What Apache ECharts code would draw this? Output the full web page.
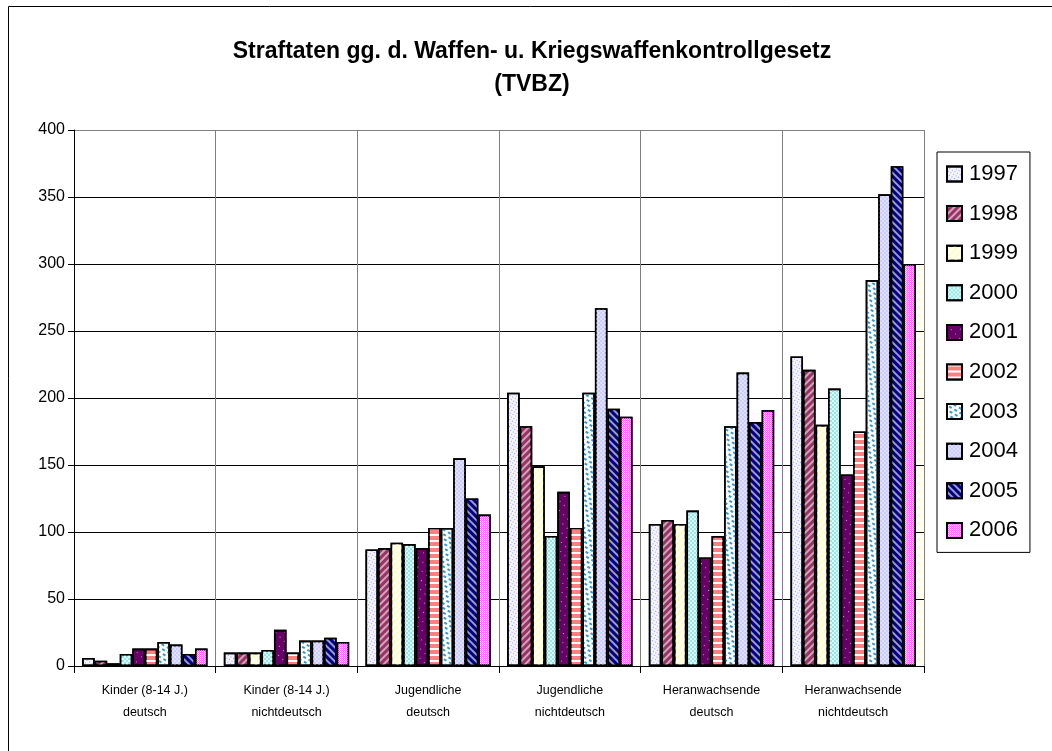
<!DOCTYPE html>
<html>
<head>
<meta charset="utf-8">
<script src="https://cdn.jsdelivr.net/npm/echarts@6/dist/echarts.min.js"></script>
<style>html,body{margin:0;padding:0;background:#fff}#c{width:1052px;height:751px}</style>
</head>
<body>
<div id="c"></div>
<script>
const categories = ['Kinder (8-14 J.)\ndeutsch', 'Kinder (8-14 J.)\nnichtdeutsch', 'Jugendliche\ndeutsch', 'Jugendliche\nnichtdeutsch', 'Heranwachsende\ndeutsch', 'Heranwachsende\nnichtdeutsch'];
const years = ['1997','1998','1999','2000','2001','2002','2003','2004','2005','2006'];
const v1997 = [6, 10, 87, 204, 106, 231];
const v1998 = [4, 10, 88, 179, 109, 221];
const v1999 = [2, 10, 92, 149, 106, 180];
const v2000 = [9, 12, 91, 97, 116, 207];
const v2001 = [13, 27, 88, 130, 81, 143];
const v2002 = [13, 10, 103, 103, 97, 175];
const v2003 = [18, 19, 103, 204, 179, 288];
const v2004 = [16, 19, 155, 267, 219, 352];
const v2005 = [9, 21, 125, 192, 182, 373];
const v2006 = [13, 18, 113, 186, 191, 300];
const yTicks = [0, 50, 100, 150, 200, 250, 300, 350, 400];

const values = [v1997, v1998, v1999, v2000, v2001, v2002, v2003, v2004, v2005, v2006];

const styles = [
  {color:'#f4f4ff', decal:{symbol:'rect', symbolSize:1, dashArrayX:[1,2], dashArrayY:[1,2], color:'#9999ff'}},
  {color:'#993366', decal:{symbol:'rect', symbolSize:1, dashArrayX:[1,0], dashArrayY:[2,3], rotation:-Math.PI/4, color:'rgba(255,255,255,0.55)'}},
  {color:'#ffffcc', decal:{symbol:'rect', symbolSize:1, dashArrayX:[1,0], dashArrayY:[2,3], color:'#ffffff'}},
  {color:'#ccffff', decal:{symbol:'rect', symbolSize:1, dashArrayX:[[2,2],[0,2,2,0]], dashArrayY:[2,0], color:'#a8e0e0'}},
  {color:'#660066', decal:{symbol:'rect', symbolSize:1, dashArrayX:[1,5], dashArrayY:[1,6], color:'#cc99cc'}},
  {color:'#ff8080', decal:{symbol:'rect', symbolSize:1, dashArrayX:[1,0], dashArrayY:[2,4], color:'#ffffff'}},
  {color:'#ffffff', decal:{symbol:'rect', symbolSize:1, dashArrayX:[[3,3],[0,3,3,0]], dashArrayY:[2,2], color:'#3399cc'}},
  {color:'#ccccff', decal:{symbol:'rect', symbolSize:1, dashArrayX:[[2,2],[0,2,2,0]], dashArrayY:[2,0], color:'#e0e0ff'}},
  {color:'#000080', decal:{symbol:'rect', symbolSize:1, dashArrayX:[1,0], dashArrayY:[2,3], rotation:Math.PI/4, color:'#9999cc'}},
  {color:'#ff66ff', decal:{symbol:'rect', symbolSize:1, dashArrayX:[[1,1],[0,1,1,0]], dashArrayY:[1,0], color:'#ffccff'}}
];

const series = years.map((y, i) => ({
  name: y,
  type: 'bar',
  data: values[i],
  barGap: '0%',
  barCategoryGap: '11.5%',
  itemStyle: {color: styles[i].color, borderColor:'#000', borderWidth:1.6, decal: styles[i].decal},
  emphasis: {disabled: true}
}));

const chart = echarts.init(document.getElementById('c'), null, {renderer:'canvas'});
chart.setOption({
  animation: false,
  backgroundColor: '#fff',
  aria: {enabled: true, decal: {show: true}},
  title: {
    text: 'Straftaten gg. d. Waffen- u. Kriegswaffenkontrollgesetz\n(TVBZ)',
    left: 527, top: 30, textAlign: 'center',
    textStyle: {fontFamily:'Arial, Liberation Sans', fontWeight:'bold', fontSize:23, lineHeight:33, color:'#000'}
  },
  legend: {
    orient: 'vertical',
    left: 937, top: 152,
    padding: [11, 12, 11, 9],
    borderColor: '#000', borderWidth: 1,
    itemWidth: 15, itemHeight: 15, itemGap: 17.6,
    icon: 'rect',
    textStyle: {fontFamily:'Arial, Liberation Sans', fontSize:22, lineHeight:22, color:'#000', padding:[0,0,0,2]},
    data: years
  },
  grid: {left: 74, right: 128, top: 130, bottom: 85, containLabel: false},
  xAxis: {
    type: 'category',
    data: categories,
    axisLine: {lineStyle: {color:'#000', width:1}},
    axisTick: {show: true, length: 7, interval: 0, lineStyle: {color:'#000'}},
    axisLabel: {interval: 0, margin: 14, fontFamily:'Arial, Liberation Sans', fontSize:12.5, lineHeight:22, color:'#000'},
    splitLine: {show: true, interval: 0, lineStyle: {color:'#808080', width:1}}
  },
  yAxis: {
    type: 'value',
    min: 0, max: 400, interval: 50,
    axisLine: {show: true, lineStyle: {color:'#000', width:1}},
    axisTick: {show: true, length: 6, lineStyle: {color:'#000'}},
    axisLabel: {margin: 9, fontFamily:'Arial, Liberation Sans', fontSize:16, color:'#000',
      formatter: v => yTicks.includes(v) ? String(v) : ''},
    splitLine: {show: true, lineStyle: {color:['#000','#000','#000','#000','#000','#000','#000','#000','#808080'], width:1}}
  },
  graphic: [
    {type:'line', shape:{x1:8.5, y1:6.5, x2:1052, y2:6.5}, style:{stroke:'#000', lineWidth:1}, silent:true},
    {type:'line', shape:{x1:8.5, y1:6.5, x2:8.5, y2:751}, style:{stroke:'#000', lineWidth:1}, silent:true}
  ],
  series: series
});
</script>
</body>
</html>
